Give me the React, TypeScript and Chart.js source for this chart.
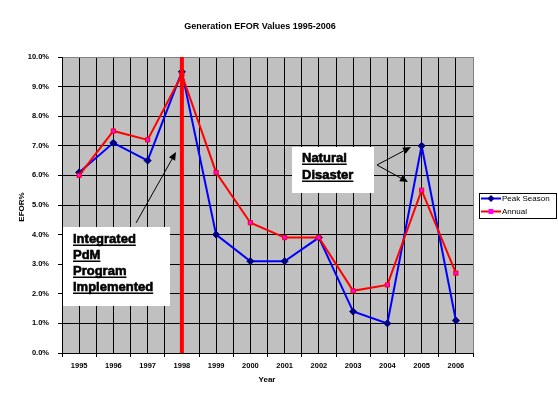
import React, { useEffect, useRef } from "react";
import { Chart, registerables } from "chart.js";

Chart.register(...registerables);

const years = [1995, 1996, 1997, 1998, 1999, 2000, 2001, 2002, 2003, 2004, 2005, 2006];
const peakSeason = [6.1, 7.1, 6.5, 9.5, 4.0, 3.1, 3.1, 3.9, 1.4, 1.0, 7.0, 1.1];
const annual = [6.0, 7.5, 7.2, 9.4, 6.1, 4.4, 3.9, 3.9, 2.1, 2.3, 5.5, 2.7];
const seriesNames = ["Peak Season", "Annual"];
const titleText = "Generation EFOR Values 1995-2006";
const xTitle = "Year";
const yTitle = "EFOR%";
const pdmYear = 1998;
const pdmNote = ["Integrated", "PdM", "Program", "Implemented"];
const disasterNote = ["Natural", "Disaster"];

const FONT = "'Liberation Sans', Arial, sans-serif";

function isInt(v: number) {
  return Math.abs(v - Math.round(v)) < 1e-6;
}

function arrow(ctx: CanvasRenderingContext2D, x1: number, y1: number, x2: number, y2: number) {
  ctx.save();
  ctx.strokeStyle = "#000";
  ctx.fillStyle = "#000";
  ctx.lineWidth = 1;
  const ang = Math.atan2(y2 - y1, x2 - x1);
  const hl = 8;
  const hw = 3.5;
  const bx = x2 - hl * Math.cos(ang);
  const by = y2 - hl * Math.sin(ang);
  ctx.beginPath();
  ctx.moveTo(x1, y1);
  ctx.lineTo(bx, by);
  ctx.stroke();
  ctx.beginPath();
  ctx.moveTo(x2, y2);
  ctx.lineTo(bx + hw * Math.sin(ang), by - hw * Math.cos(ang));
  ctx.lineTo(bx - hw * Math.sin(ang), by + hw * Math.cos(ang));
  ctx.closePath();
  ctx.fill();
  ctx.restore();
}

function noteBox(ctx: CanvasRenderingContext2D, x: number, y: number, w: number, h: number, lines: string[], tx: number, ty: number, lh: number) {
  ctx.save();
  ctx.fillStyle = "#fff";
  ctx.fillRect(x, y, w, h);
  ctx.fillStyle = "#000";
  ctx.strokeStyle = "#000";
  ctx.lineWidth = 0.6;
  ctx.font = `bold 13px ${FONT}`;
  ctx.textBaseline = "alphabetic";
  ctx.textAlign = "left";
  lines.forEach((t, i) => {
    const by = ty + i * lh;
    ctx.fillText(t, tx, by);
    ctx.strokeText(t, tx, by);
    const w2 = ctx.measureText(t).width;
    ctx.fillRect(tx, by + 1.5, w2, 1.5);
  });
  ctx.restore();
}

const decorPlugin = {
  id: "decor",
  afterDatasetsDraw(chart: any) {
    const ctx: CanvasRenderingContext2D = chart.ctx;
    const { top, bottom } = chart.chartArea;
    const xs = chart.scales.x;
    const xp = xs.getPixelForValue(pdmYear);
    ctx.save();
    ctx.strokeStyle = "#FF0000";
    ctx.lineWidth = 4;
    ctx.beginPath();
    ctx.moveTo(xp, top);
    ctx.lineTo(xp, bottom);
    ctx.stroke();
    ctx.restore();

    noteBox(ctx, 63, 227, 107, 79, pdmNote, 73, 243, 16);
    arrow(ctx, 136, 223, 176, 152);

    noteBox(ctx, 292, 147, 82, 46, disasterNote, 302, 162, 17);
    arrow(ctx, 377, 165, 411, 147);
    arrow(ctx, 377, 165, 408, 182);
  },
  afterDraw(chart: any) {
    const ctx: CanvasRenderingContext2D = chart.ctx;
    ctx.save();
    ctx.fillStyle = "#000";
    ctx.textAlign = "center";
    ctx.textBaseline = "middle";
    ctx.font = `bold 9px ${FONT}`;
    ctx.fillText(titleText, 260, 27);
    ctx.font = `bold 8px ${FONT}`;
    ctx.fillText(xTitle, 267, 380);
    ctx.save();
    ctx.translate(22, 207);
    ctx.rotate(-Math.PI / 2);
    ctx.fillText(yTitle, 0, 0);
    ctx.restore();

    // legend
    ctx.strokeStyle = "#000";
    ctx.lineWidth = 1;
    ctx.strokeRect(479.5, 193.5, 77, 25);
    ctx.textAlign = "left";
    ctx.font = `8px ${FONT}`;
    const items = [
      { y: 198.5, line: "#0000FF", name: seriesNames[0], kind: "d" },
      { y: 211.5, line: "#FF0000", name: seriesNames[1], kind: "s" },
    ];
    items.forEach((it) => {
      ctx.strokeStyle = it.line;
      ctx.lineWidth = 2;
      ctx.beginPath();
      ctx.moveTo(481, it.y);
      ctx.lineTo(501, it.y);
      ctx.stroke();
      if (it.kind === "d") {
        ctx.fillStyle = "#000080";
        ctx.beginPath();
        ctx.moveTo(491, it.y - 3.5);
        ctx.lineTo(494.5, it.y);
        ctx.lineTo(491, it.y + 3.5);
        ctx.lineTo(487.5, it.y);
        ctx.closePath();
        ctx.fill();
      } else {
        ctx.fillStyle = "#FF00FF";
        ctx.fillRect(488.5, it.y - 2.5, 5, 5);
      }
      ctx.fillStyle = "#000";
      ctx.fillText(it.name, 502, it.y);
    });
    ctx.restore();
  },
};

const plotBgPlugin = {
  id: "plotBg",
  beforeDraw(chart: any) {
    const { left, top, right, bottom } = chart.chartArea;
    const ctx = chart.ctx;
    ctx.save();
    ctx.fillStyle = "#C0C0C0";
    ctx.fillRect(left, top, right - left, bottom - top);
    ctx.restore();
  },
};

export default function App() {
  const ref = useRef<HTMLCanvasElement | null>(null);
  useEffect(() => {
    if (!ref.current) return;
    const chart = new Chart(ref.current, {
      type: "line",
      data: {
        datasets: [
          {
            label: seriesNames[1],
            data: years.map((y, i) => ({ x: y, y: annual[i] })),
            borderColor: "#FF0000",
            backgroundColor: "#FF00FF",
            borderWidth: 2,
            pointStyle: "rect",
            pointRadius: 3,
            pointBorderWidth: 1,
            pointBorderColor: "#FF0000",
            pointBackgroundColor: "#FF00FF",
            tension: 0,
            order: 0,
          },
          {
            label: seriesNames[0],
            data: years.map((y, i) => ({ x: y, y: peakSeason[i] })),
            borderColor: "#0000FF",
            backgroundColor: "#000080",
            borderWidth: 2,
            pointStyle: "rectRot",
            pointRadius: 3.5,
            pointBorderWidth: 1,
            pointBorderColor: "#000080",
            pointBackgroundColor: "#000080",
            tension: 0,
            order: 1,
          },
        ],
      },
      options: {
        animation: false,
        responsive: false,
        maintainAspectRatio: false,
        events: [],
        layout: { padding: { left: 0, top: 57, right: 85, bottom: 0 } },
        plugins: {
          legend: { display: false },
          title: { display: false },
          tooltip: { enabled: false },
        },
        scales: {
          x: {
            type: "linear",
            min: years[0] - 0.5,
            max: years[years.length - 1] + 0.5,
            afterFit: (s: any) => {
              s.height = 40;
            },
            afterBuildTicks: (s: any) => {
              const t = [];
              for (let v = years[0] - 0.5; v <= years[years.length - 1] + 0.5 + 1e-6; v += 0.5) t.push({ value: v });
              s.ticks = t;
            },
            ticks: {
              autoSkip: false,
              maxRotation: 0,
              minRotation: 0,
              padding: 4,
              color: "#000",
              font: { family: FONT, size: 7.5, weight: "bold" },
              callback: (v: any) => (isInt(Number(v)) ? String(Math.round(Number(v))) : ""),
            },
            grid: {
              color: (c: any) => (c.tick && Math.abs(c.tick.value - (years[years.length - 1] + 0.5)) < 1e-6 ? "#808080" : "#000"),
              lineWidth: 1,
              tickLength: 4,
              tickColor: (c: any) => (c.tick && isInt(c.tick.value) ? "rgba(0,0,0,0)" : "#000"),
            },
            border: { color: "#000", width: 1 },
          },
          y: {
            min: 0,
            max: 10,
            afterFit: (s: any) => {
              s.width = 62;
            },
            ticks: {
              stepSize: 1,
              padding: 9,
              color: "#000",
              font: { family: FONT, size: 7.5, weight: "bold" },
              callback: (v: any) => Number(v).toFixed(1) + "%",
            },
            grid: {
              color: (c: any) => (c.tick && c.tick.value === 10 ? "#808080" : "#000"),
              lineWidth: 1,
              tickLength: 4,
              tickColor: "#000",
            },
            border: { color: "#000", width: 1 },
          },
        },
      },
      plugins: [plotBgPlugin, decorPlugin],
    } as any);
    return () => chart.destroy();
  }, []);
  return (
    <div style={{ position: "fixed", left: 0, top: 0, width: 558, height: 393, background: "#fff" }}>
      <canvas ref={ref} width={558} height={393} style={{ width: 558, height: 393, display: "block" }} />
    </div>
  );
}
